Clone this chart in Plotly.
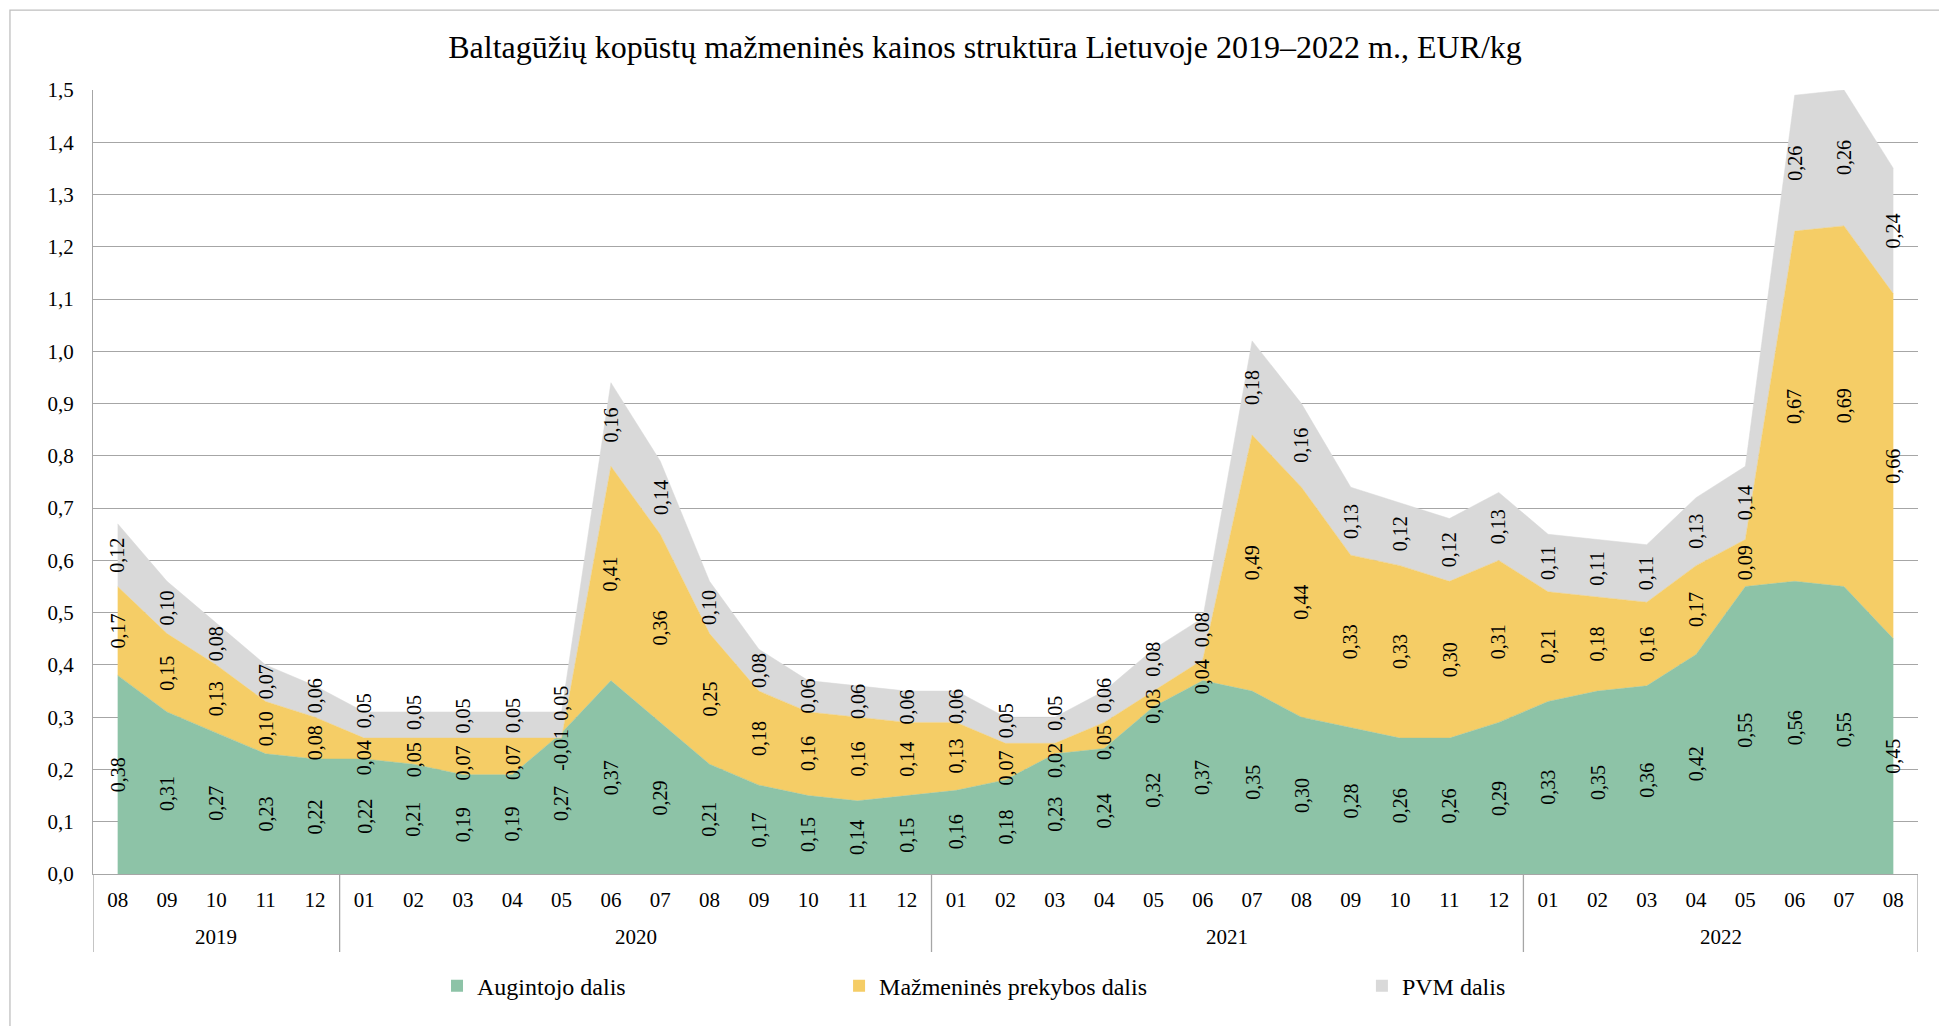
import plotly.graph_objects as go

# ---- data ----
years = ["2019"] * 5 + ["2020"] * 12 + ["2021"] * 12 + ["2022"] * 8
months = (["08", "09", "10", "11", "12"]
          + ["01", "02", "03", "04", "05", "06", "07", "08", "09", "10", "11", "12"]
          + ["01", "02", "03", "04", "05", "06", "07", "08", "09", "10", "11", "12"]
          + ["01", "02", "03", "04", "05", "06", "07", "08"])

augintojo = [0.38, 0.31, 0.27, 0.23, 0.22,
             0.22, 0.21, 0.19, 0.19, 0.27, 0.37, 0.29, 0.21, 0.17, 0.15, 0.14, 0.15,
             0.16, 0.18, 0.23, 0.24, 0.32, 0.37, 0.35, 0.30, 0.28, 0.26, 0.26, 0.29,
             0.33, 0.35, 0.36, 0.42, 0.55, 0.56, 0.55, 0.45]
mazmenine = [0.17, 0.15, 0.13, 0.10, 0.08,
             0.04, 0.05, 0.07, 0.07, -0.01, 0.41, 0.36, 0.25, 0.18, 0.16, 0.16, 0.14,
             0.13, 0.07, 0.02, 0.05, 0.03, 0.04, 0.49, 0.44, 0.33, 0.33, 0.30, 0.31,
             0.21, 0.18, 0.16, 0.17, 0.09, 0.67, 0.69, 0.66]
pvm = [0.12, 0.10, 0.08, 0.07, 0.06,
       0.05, 0.05, 0.05, 0.05, 0.05, 0.16, 0.14, 0.10, 0.08, 0.06, 0.06, 0.06,
       0.06, 0.05, 0.05, 0.06, 0.08, 0.08, 0.18, 0.16, 0.13, 0.12, 0.12, 0.13,
       0.11, 0.11, 0.11, 0.13, 0.14, 0.26, 0.26, 0.24]

series_names = ["Augintojo dalis", "Mažmeninės prekybos dalis", "PVM dalis"]
colors = ["#8DC3A7", "#F5CD66", "#D9D9D9"]
title_text = "Baltagūžių kopūstų mažmeninės kainos struktūra Lietuvoje 2019–2022 m., EUR/kg"

FONT = "Liberation Serif, Times New Roman, serif"
GRID = "#A6A6A6"

n = len(months)
idx = list(range(n))

fig = go.Figure()
series = [augintojo, mazmenine, pvm]
for name, vals, col in zip(series_names, series, colors):
    fig.add_trace(go.Scatter(
        x=idx, y=vals, name=name, mode="lines",
        stackgroup="one", fillcolor=col,
        line=dict(color=col, width=0.5),
        showlegend=False, hoverinfo="skip",
    ))

# legend proxies (small squares), each in its own legend box
legend_names = ["legend", "legend2", "legend3"]
for name, col, lg in zip(series_names, colors, legend_names):
    fig.add_trace(go.Scatter(
        x=[None], y=[None], mode="markers", name=name,
        marker=dict(symbol="square", size=12, color=col),
        showlegend=True, legend=lg, hoverinfo="skip",
    ))

# data labels: rotated, centred inside each band, nudged apart when crowded
MIN_GAP = 0.09   # minimal vertical distance between label centres (data units)
annotations = []
for i in range(n):
    cum = 0.0
    pos = []
    for vals in series:
        pos.append(cum + vals[i] / 2)
        cum += vals[i]
    for _ in range(4):
        for k in range(1, len(pos)):
            d = MIN_GAP - (pos[k] - pos[k - 1])
            if d > 0:
                pos[k - 1] -= 0.4 * d
                pos[k] += 0.6 * d
    for vals, p in zip(series, pos):
        annotations.append(dict(
            x=i, y=p, xref="x", yref="y",
            text=f"{vals[i]:.2f}".replace(".", ","),
            textangle=-90, showarrow=False,
            font=dict(family=FONT, size=20, color="black"),
        ))

# year groups (second level of the category axis) and their dividers
groups = []
start = 0
for i in range(1, n + 1):
    if i == n or years[i] != years[start]:
        groups.append((years[start], start, i - 1))
        start = i

YEAR_Y = -0.0804      # year label row (paper units, below plot)
DIV_Y = -0.0995       # bottom of the group dividers
shapes = []
for yr, a, b in groups:
    annotations.append(dict(
        x=(a + b) / 2, y=YEAR_Y, xref="x", yref="paper", text=yr,
        showarrow=False, yanchor="middle",
        font=dict(family=FONT, size=21, color="black"),
    ))
    shapes.append(dict(type="line", xref="x", yref="paper", x0=a - 0.5, x1=a - 0.5,
                       y0=0, y1=DIV_Y, line=dict(color=GRID, width=1.3)))
shapes.append(dict(type="line", xref="x", yref="paper", x0=n - 0.5, x1=n - 0.5,
                   y0=0, y1=DIV_Y, line=dict(color=GRID, width=1.3)))
# outer chart border
shapes.append(dict(type="rect", xref="paper", yref="paper",
                   x0=-0.0455, x1=1.02, y0=-0.2, y1=1.102,
                   line=dict(color="#BFBFBF", width=1.3), layer="below"))

leg_common = dict(orientation="h", yanchor="middle", y=-0.143,
                  font=dict(family=FONT, size=24, color="black"),
                  bgcolor="rgba(0,0,0,0)", itemclick=False, itemdoubleclick=False)

fig.update_layout(
    width=1939, height=1026,
    paper_bgcolor="white", plot_bgcolor="white",
    margin=dict(l=93, r=21, t=90, b=152),
    separators=",.",
    title=dict(text=title_text, x=0.508, xanchor="center", y=0.954, yanchor="middle",
               font=dict(family=FONT, size=32, color="black")),
    font=dict(family=FONT, color="black"),
    xaxis=dict(type="linear", range=[-0.5, n - 0.5], tickmode="array",
               tickvals=idx, ticktext=months, showgrid=False, zeroline=False,
               showline=True, linecolor=GRID, linewidth=1.3, ticks="",
               ticklabelstandoff=7,
               tickfont=dict(family=FONT, size=21, color="black")),
    yaxis=dict(range=[0, 1.5], dtick=0.1, tickformat=".1f", showgrid=True,
               gridcolor=GRID, gridwidth=1.3, showline=True, linecolor=GRID,
               linewidth=1.3, zeroline=False, ticks="", ticklabelstandoff=14,
               tickfont=dict(family=FONT, size=21, color="black")),
    legend=dict(x=0.1885, xanchor="left", **leg_common),
    legend2=dict(x=0.4088, xanchor="left", **leg_common),
    legend3=dict(x=0.6953, xanchor="left", **leg_common),
    annotations=annotations,
    shapes=shapes,
    hovermode=False,
)

fig.write_html("out.html", config={"displayModeBar": False},
               post_script="document.body.style.margin='0';document.body.style.overflow='hidden';")
